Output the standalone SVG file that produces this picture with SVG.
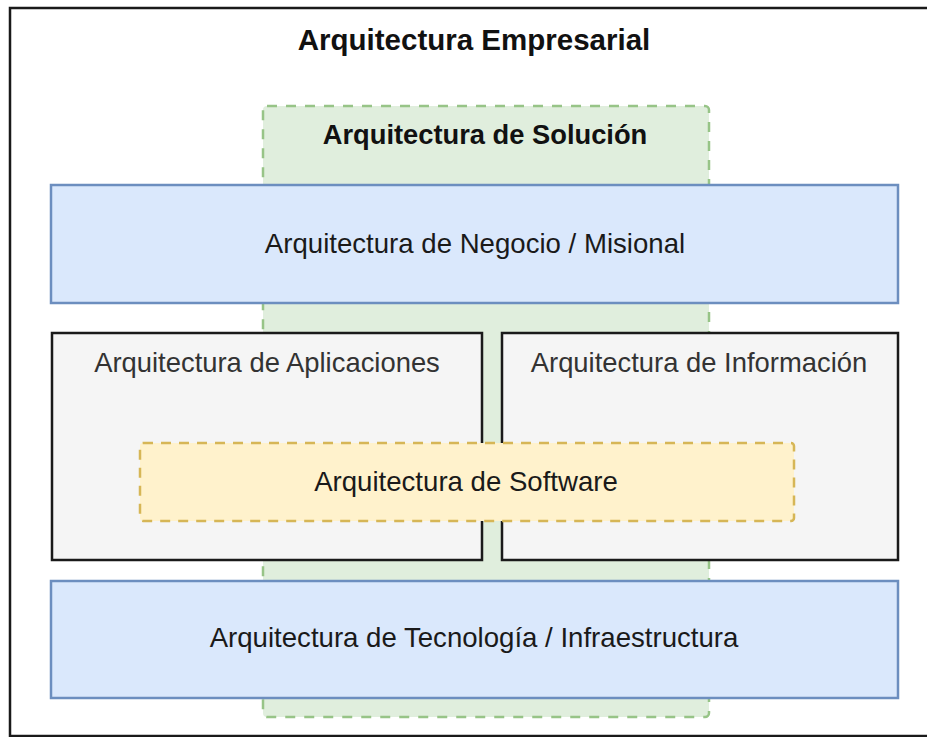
<svg xmlns="http://www.w3.org/2000/svg" width="927" height="737" viewBox="0 0 927 737">
  <style>
    .t { font-family: "Liberation Sans", Arial, sans-serif; text-anchor: middle; }
    .b { font-weight: bold; fill: #111; }
    .r { fill: #1a1a1a; font-size: 27.6px; }
    .g { fill: #333; font-size: 27.4px; }
    .blue { fill: #dae8fc; stroke: #6c8ebf; stroke-width: 2.5; }
    .gray { fill: #f5f5f5; stroke: #1a1a1a; stroke-width: 2.5; }
  </style>
  <rect width="927" height="737" fill="#ffffff"/>
  <g id="empresarial">
    <rect x="10" y="8" width="930" height="728" fill="#ffffff" stroke="#1a1a1a" stroke-width="2.5"/>
    <text class="t b" x="474" y="50" font-size="29.5">Arquitectura Empresarial</text>
  </g>
  <g id="solucion">
    <rect x="263" y="106" width="446" height="611" rx="4" fill="#e0eedd" stroke="#97c487" stroke-width="2.5" stroke-dasharray="10 9"/>
    <text class="t b" x="485" y="144" font-size="27.3">Arquitectura de Solución</text>
  </g>
  <g id="negocio">
    <rect class="blue" x="51" y="185" width="847" height="118"/>
    <text class="t r" x="475" y="253">Arquitectura de Negocio / Misional</text>
  </g>
  <g id="aplicaciones">
    <rect class="gray" x="52" y="333" width="430" height="227"/>
    <text class="t g" x="267" y="372">Arquitectura de Aplicaciones</text>
  </g>
  <g id="informacion">
    <rect class="gray" x="502" y="333" width="396" height="227"/>
    <text class="t g" x="699" y="372">Arquitectura de Información</text>
  </g>
  <g id="software">
    <rect x="140" y="443" width="654" height="78" rx="3" fill="#fff2cc" stroke="#d6b656" stroke-width="2.5" stroke-dasharray="10 8"/>
    <text class="t r" x="466" y="491">Arquitectura de Software</text>
  </g>
  <g id="tecnologia">
    <rect class="blue" x="51" y="581" width="847" height="117"/>
    <text class="t r" x="474" y="647">Arquitectura de Tecnología / Infraestructura</text>
  </g>
  <g id="connectors"/>
</svg>
